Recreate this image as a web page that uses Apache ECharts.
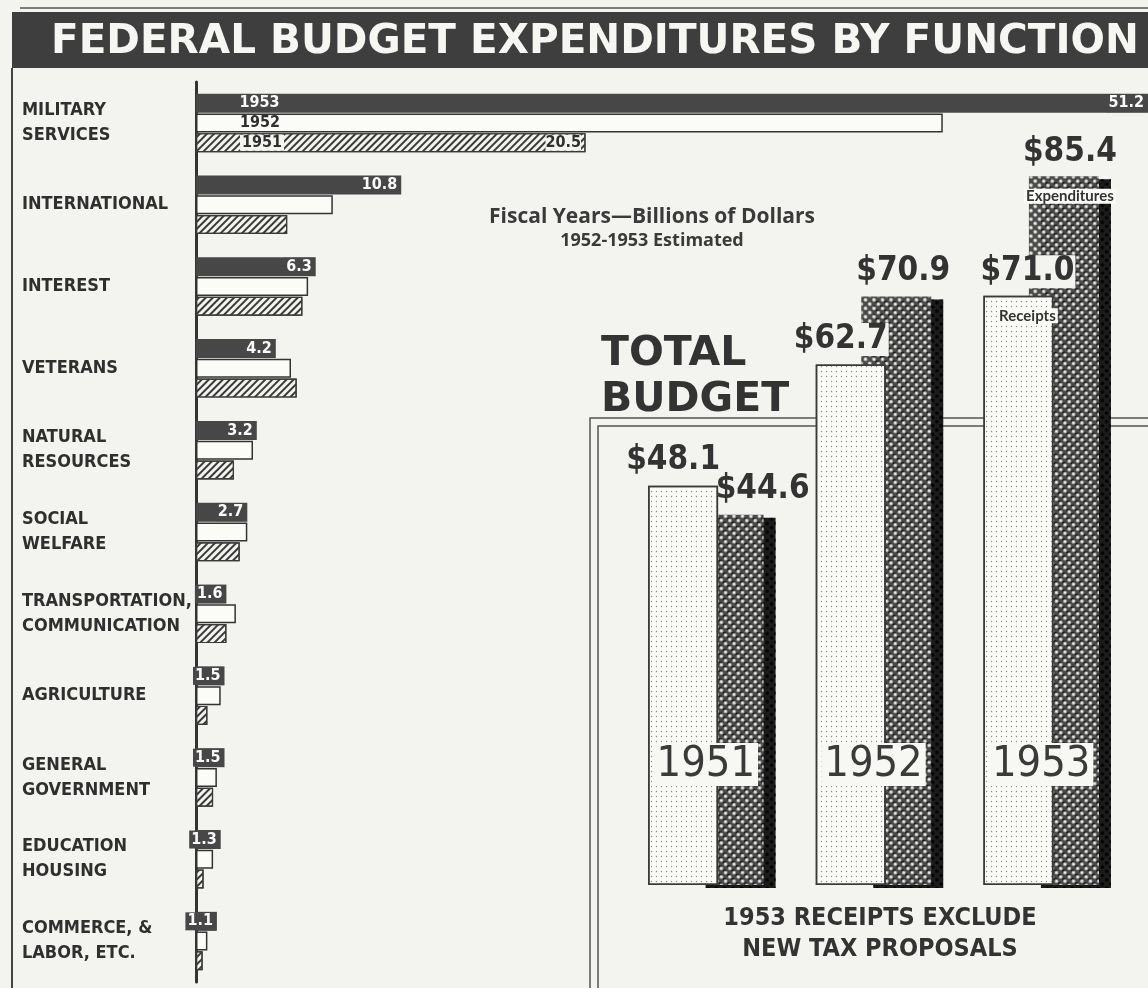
<!DOCTYPE html>
<html>
<head>
<meta charset="utf-8">
<script src="https://cdn.jsdelivr.net/npm/echarts@6/dist/echarts.min.js"></script>
<style>
html,body{margin:0;padding:0;background:#f3f3ef;}
#chart{width:1148px;height:988px;}
</style>
</head>
<body>
<div id="chart"></div>
<script>
// ---- Data: federal budget expenditures by function (billions of dollars)
const categories = ['MILITARY\nSERVICES','INTERNATIONAL','INTEREST','VETERANS','NATURAL\nRESOURCES','SOCIAL\nWELFARE','TRANSPORTATION,\nCOMMUNICATION','AGRICULTURE','GENERAL\nGOVERNMENT','EDUCATION\nHOUSING','COMMERCE, &\nLABOR, ETC.'];
const fy1953 = [51.2, 10.8, 6.3, 4.2, 3.2, 2.7, 1.6, 1.5, 1.5, 1.3, 1.1];
const fy1952 = [39.3, 7.2, 5.9, 5.0, 3.0, 2.7, 2.1, 1.3, 1.1, 0.9, 0.6];
const fy1951 = [20.5, 4.8, 5.6, 5.3, 2.0, 2.3, 1.6, 0.6, 0.9, 0.4, 0.35];
const yearNames = ['1953', '1952', '1951'];

// ---- Data: total budget
const totalYears = ['1951', '1952', '1953'];
const receipts = [48.1, 62.7, 71.0];
const expenditures = [44.6, 70.9, 85.4];

const NARROW = "'Liberation Sans Narrow','DejaVu Sans Condensed',sans-serif";
const INK = '#2f2f2f';
const PAPER = '#f3f3ef';
const DARK = '#474747';

const chart = echarts.init(document.getElementById('chart'), null, {renderer: 'canvas'});

const hatchDecal = {
  symbol: 'rect', symbolSize: 1, color: '#3a3a3a',
  dashArrayX: [1, 0], dashArrayY: [2, 3], rotation: -Math.PI / 4
};
const dotDecal = {
  symbol: 'circle', symbolSize: 0.45, color: '#8a8a8a',
  dashArrayX: [3, 2], dashArrayY: [3, 2], rotation: 0
};
const crossDecal = {
  symbol: 'circle', symbolSize: 0.9, color: 'rgba(245,245,240,0.95)',
  dashArrayX: [4, 2], dashArrayY: [4, 2], rotation: Math.PI / 4
};

const bigRich = {
  v: {fontSize: 33, fontWeight: 'bold', fontFamily: NARROW, color: '#333', lineHeight: 40, backgroundColor: PAPER, padding: [0, 1]},
  g: {lineHeight: 14, fontSize: 10},
  s: {fontSize: 15, fontWeight: 'bold', fontFamily: "Lato,'Open Sans',sans-serif", color: '#333', lineHeight: 20, backgroundColor: '#fbfbf8', padding: [0, 2]}
};
const money = p => '{v|$' + p.value.toFixed(1) + '}';

const option = {
  backgroundColor: PAPER,
  animation: false,
  title: [
    {text: 'FEDERAL BUDGET EXPENDITURES BY FUNCTION', left: 46, top: 17,
     textStyle: {color: '#f6f6f2', fontSize: 40.5, fontWeight: 'bold', fontFamily: "'DejaVu Sans',sans-serif"}},
    {text: 'Fiscal Years\u2014Billions of Dollars', subtext: '1952-1953 Estimated', left: 647, top: 202, textAlign: 'center', itemGap: 4,
     textStyle: {color: '#3a3a3a', fontSize: 21, fontWeight: 'bold', fontFamily: "'Open Sans',Lato,sans-serif"},
     subtextStyle: {color: '#3a3a3a', fontSize: 18, fontWeight: 'bold', fontFamily: "'Open Sans',Lato,sans-serif"}},
    {text: 'TOTAL\nBUDGET', left: 596, top: 326,
     textStyle: {color: '#333', fontSize: 41, lineHeight: 46, fontWeight: 'bold', fontFamily: "'DejaVu Sans',sans-serif"}},
    {text: '1953 RECEIPTS EXCLUDE\nNEW TAX PROPOSALS', left: 875, top: 898, textAlign: 'center',
     textStyle: {color: '#333', fontSize: 25, lineHeight: 31, fontWeight: 'bold', fontFamily: NARROW}}
  ],
  graphic: [
    {type: 'rect', shape: {x: 12, y: 12, width: 1136, height: 56}, style: {fill: '#3e3e3e'}, z: 0},
    {type: 'line', shape: {x1: 20, y1: 8, x2: 1148, y2: 8}, style: {stroke: '#555', lineWidth: 1.5}, z: 0},
    {type: 'line', shape: {x1: 12, y1: 68, x2: 12, y2: 988}, style: {stroke: '#444', lineWidth: 2}, z: 0},
    {type: 'polyline', shape: {points: [[590, 988], [590, 418], [1148, 418]]}, style: {stroke: '#555', lineWidth: 1.5, fill: null}, z: 0},
    {type: 'polyline', shape: {points: [[598, 988], [598, 426], [1148, 426]]}, style: {stroke: '#555', lineWidth: 1.5, fill: null}, z: 0}
  ],
  grid: [
    {left: 196, top: 82, right: 0, height: 900},
    {left: 622, top: 138, width: 503, height: 747}
  ],
  xAxis: [
    {gridIndex: 0, type: 'value', min: 0, max: 50.1, show: false},
    {gridIndex: 1, type: 'category', data: totalYears, z: 5,
     axisLine: {show: false}, axisTick: {show: false},
     axisLabel: {margin: -142, fontSize: 43, fontFamily: NARROW, color: '#3a3a3a',
                 backgroundColor: '#f7f7f4', padding: [0, 3, 0, 3]}}
  ],
  yAxis: [
    {gridIndex: 0, type: 'category', data: categories, inverse: true, z: 0,
     axisLine: {show: true, lineStyle: {color: '#333', width: 3}},
     axisTick: {show: false},
     axisLabel: {align: 'left', margin: 174, fontSize: 18, lineHeight: 25, fontWeight: 'bold', fontFamily: NARROW, color: INK}},
    {gridIndex: 1, type: 'value', min: 0, max: 90, show: false}
  ],
  series: [
    {name: yearNames[0], type: 'bar', xAxisIndex: 0, yAxisIndex: 0, barWidth: 19, barGap: '4%', z: 3,
     data: fy1953,
     itemStyle: {color: DARK},
     label: {show: true, position: 'insideRight', distance: 2, color: '#fafafa', fontSize: 16, fontWeight: 'bold', fontFamily: NARROW,
             backgroundColor: DARK, padding: [1, 2], overflow: 'none',
             formatter: p => p.value.toFixed(1)},
     markPoint: {
       symbol: 'circle', symbolSize: 1, itemStyle: {color: 'rgba(0,0,0,0)'},
       data: [{coord: [0, 0], name: yearNames[0]}],
       label: {show: true, position: 'right', distance: 43, color: '#fafafa', fontSize: 16, fontWeight: 'bold', fontFamily: NARROW,
               formatter: p => p.name}
     }},
    {name: yearNames[1], type: 'bar', xAxisIndex: 0, yAxisIndex: 0, barWidth: 19,
     data: fy1952.map((v, i) => i === 0
       ? {value: v, label: {show: true, position: 'insideLeft', distance: 44, formatter: yearNames[1]}}
       : v),
     itemStyle: {color: '#fbfbf8', borderColor: '#333', borderWidth: 1.5},
     label: {show: false, color: INK, fontSize: 16, fontWeight: 'bold', fontFamily: NARROW}},
    {name: yearNames[2], type: 'bar', xAxisIndex: 0, yAxisIndex: 0, barWidth: 19,
     data: fy1951.map((v, i) => i === 0
       ? {value: v, label: {show: true, position: 'insideLeft', distance: 44, formatter: yearNames[2], backgroundColor: PAPER, padding: [0, 2]}}
       : v),
     itemStyle: {color: PAPER, borderColor: '#3a3a3a', borderWidth: 1.2, decal: hatchDecal},
     label: {show: false, color: INK, fontSize: 16, fontWeight: 'bold', fontFamily: NARROW},
     markPoint: {
       symbol: 'circle', symbolSize: 1, itemStyle: {color: 'rgba(0,0,0,0)'},
       data: [{coord: [fy1951[0], 0], value: fy1951[0]}],
       label: {show: true, position: 'left', distance: 4, color: INK, fontSize: 16, fontWeight: 'bold', fontFamily: NARROW,
               backgroundColor: PAPER, formatter: p => p.value.toFixed(1)}
     }},
    {name: 'Receipts', type: 'bar', xAxisIndex: 1, yAxisIndex: 1, barWidth: 70, barGap: '-35%', z: 3,
     data: receipts.map((v, i) => i === 2
       ? {value: v, label: {position: 'insideTop', offset: [9, -49],
           formatter: p => money(p) + '\n{g|}\n{s|Receipts}'}}
       : {value: v, label: {offset: [-10, 0]}}),
     itemStyle: {color: '#fbfbf8', borderColor: '#3a3a3a', borderWidth: 1.5, decal: dotDecal},
     label: {show: true, position: 'top', distance: 5, formatter: money, rich: bigRich}},
    {name: 'Expenditures', type: 'bar', xAxisIndex: 1, yAxisIndex: 1, barWidth: 70, z: 2,
     data: expenditures.map((v, i) => i === 0
       ? {value: v, label: {offset: [34, 0]}}
       : i === 2
       ? {value: v, label: {position: 'insideTop', offset: [6, -49],
           formatter: p => money(p) + '\n{g|}\n{s|Expenditures}'}}
       : {value: v, label: {offset: [7, 0]}}),
     itemStyle: {color: '#4a4a4a', borderWidth: 0, decal: crossDecal,
                 shadowColor: '#1c1c1c', shadowBlur: 0, shadowOffsetX: 12, shadowOffsetY: 3},
     label: {show: true, position: 'top', distance: 5, formatter: money, rich: bigRich}}
  ]
};
chart.setOption(option);
</script>
</body>
</html>
